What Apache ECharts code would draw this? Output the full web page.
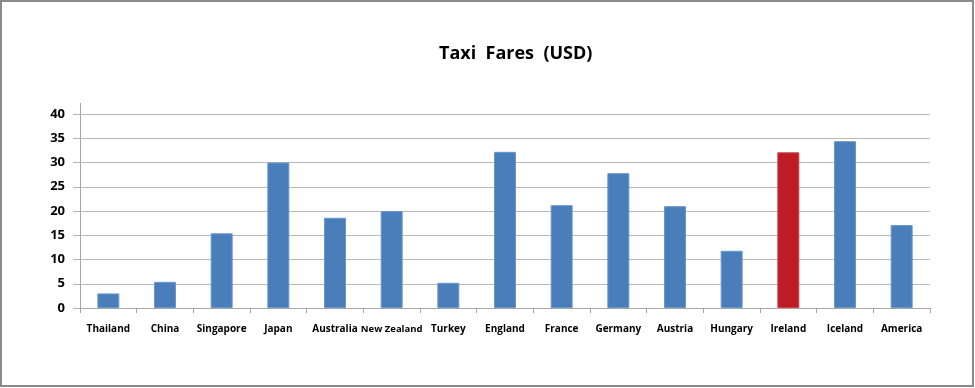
<!DOCTYPE html>
<html>
<head>
<meta charset="utf-8">
<script src="https://cdn.jsdelivr.net/npm/echarts@6/dist/echarts.min.js"></script>
<style>html,body{margin:0;padding:0;background:#fff;}#c{width:975px;height:388px;}</style>
</head>
<body>
<div id="c"></div>
<script>
const categories = ['Thailand','China','Singapore','Japan','Australia','New Zealand','Turkey','England','France','Germany','Austria','Hungary','Ireland','Iceland','America'];
const fares = [3.0, 5.4, 15.4, 30.0, 18.6, 20.0, 5.2, 32.2, 21.2, 27.8, 21.0, 11.8, 32.1, 34.4, 17.1];
const highlight = 'Ireland';
const yTicks = [0, 5, 10, 15, 20, 25, 30, 35, 40];

const chart = echarts.init(document.getElementById('c'));
chart.setOption({
  animation: false,
  backgroundColor: '#fff',
  title: {
    text: 'Taxi  Fares  (USD)',
    left: 434, top: 40,
    textStyle: { fontFamily: 'Open Sans', fontWeight: 'bold', fontSize: 18, color: '#000' }
  },
  grid: { left: 80, right: 45, top: 114, bottom: 80 },
  xAxis: {
    type: 'category', data: categories,
    axisLine: { lineStyle: { color: '#a6a6a6', width: 1 } },
    axisTick: { show: true, length: 5, lineStyle: { color: '#a6a6a6' } },
    axisLabel: {
      margin: 16, color: '#000', fontFamily: 'Open Sans', fontWeight: 'bold', fontSize: 10, interval: 0,
      formatter: v => v.length > 10 ? '{n|' + v + '}' : v,
      rich: { n: { fontFamily: 'Open Sans', fontWeight: 'bold', fontSize: 9.5, color: '#000' } }
    }
  },
  yAxis: {
    type: 'value', min: yTicks[0], max: yTicks[yTicks.length-1], interval: 5,
    axisLine: { show: true, lineStyle: { color: '#a6a6a6' } },
    axisTick: { show: true, length: 7, lineStyle: { color: '#b4b4b4' } },
    splitLine: { lineStyle: { color: '#b9b9b9' } },
    axisLabel: { margin: 15, color: '#000', fontFamily: 'Open Sans', fontWeight: 'bold', fontSize: 13 }
  },
  graphic: [
    { type: 'rect', shape: { x: 1, y: 1, width: 972, height: 385 }, style: { fill: 'none', stroke: '#8a8a8a', lineWidth: 2 }, silent: true },
    { type: 'line', shape: { x1: 80.5, y1: 103, x2: 80.5, y2: 114 }, style: { stroke: '#a6a6a6', lineWidth: 1 }, silent: true }
  ],
  series: [{
    type: 'bar', barWidth: 22,
    data: fares.map((v, i) => ({
      value: v,
      itemStyle: { color: categories[i] === highlight ? '#BE1B24' : '#4A7EBB',
                   borderColor: categories[i] === highlight ? '#c9444a' : '#6b97cb', borderWidth: 1 }
    }))
  }]
});
</script>
</body>
</html>
